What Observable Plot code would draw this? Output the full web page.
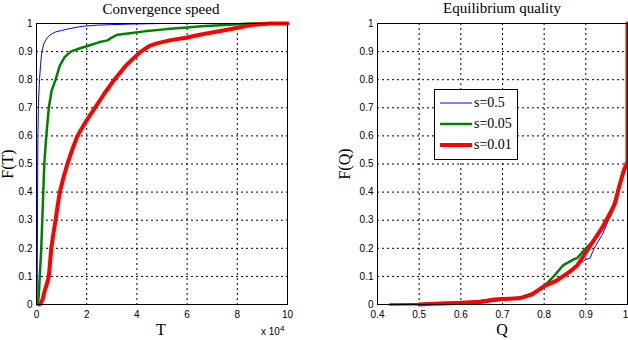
<!DOCTYPE html>
<html>
<head>
<meta charset="utf-8">
<script src="https://cdn.jsdelivr.net/npm/d3@7"></script>
<script src="https://cdn.jsdelivr.net/npm/@observablehq/plot@0.6"></script>
<style>
  html, body { margin: 0; padding: 0; background: #fff; }
  #wrap { position: relative; width: 628px; height: 340px; overflow: hidden; background: #fff; }
  .pl { position: absolute; top: 0; }
  .lbl { position: absolute; font-family: "Liberation Serif", serif; color: #000; white-space: nowrap; line-height: 1; }
  .legend { position: absolute; left: 434px; top: 89px; width: 82px; height: 69px; border: 1px solid #000; background: #fff;
            font-family: "Liberation Serif", serif; font-size: 14px; }
  .legend .row { position: absolute; left: 5px; height: 20px; display: flex; align-items: center; }
  .legend .row span { margin-left: 2px; }
</style>
</head>
<body>
<div id="wrap"></div>
<script>
// ---------- data ----------
const seriesNames = ["s=0.5", "s=0.05", "s=0.01"];
const seriesColors = ["#0000ff", "#008000", "#ff0000"];
const seriesWidths = [1, 2.5, 4];

// Left panel: CDF of convergence time T (in units of 10^4)
const tBlue = [0, 0.02, 0.03, 0.04, 0.05, 0.06, 0.08, 0.12, 0.16, 0.2, 0.24, 0.3, 0.43, 0.55, 0.76, 1.0, 1.23, 1.5, 1.83, 2.4, 3.0, 3.8, 5, 10];
const fBlue = [0, 0.02, 0.1, 0.3, 0.55, 0.62, 0.72, 0.8, 0.85, 0.89, 0.91, 0.93, 0.95, 0.96, 0.97, 0.975, 0.98, 0.985, 0.99, 0.994, 0.996, 0.998, 1, 1];
const tGreen = [0.03, 0.08, 0.1, 0.13, 0.19, 0.23, 0.27, 0.31, 0.39, 0.49, 0.6, 0.76, 0.93, 1.12, 1.36, 1.68, 2.03, 2.48, 2.83, 3.0, 3.23, 3.8, 4.3, 5.2, 6.0, 6.56, 7.5, 8.5, 10];
const fGreen = [0, 0.02, 0.05, 0.1, 0.2, 0.3, 0.4, 0.5, 0.6, 0.7, 0.76, 0.8, 0.85, 0.88, 0.9, 0.91, 0.92, 0.933, 0.94, 0.95, 0.96, 0.966, 0.972, 0.98, 0.986, 0.99, 0.995, 1, 1];
const tRed = [0.12, 0.16, 0.2, 0.25, 0.3, 0.35, 0.4, 0.45, 0.49, 0.54, 0.59, 0.67, 0.76, 0.84, 0.93, 1.07, 1.23, 1.42, 1.63, 1.96, 2.33, 2.7, 3.1, 3.56, 3.85, 4.16, 4.5, 4.83, 5.3, 6.0, 6.5, 7.1, 7.6, 8.0, 8.6, 9.3, 10];
const fRed = [0, 0.003, 0.01, 0.02, 0.04, 0.055, 0.07, 0.085, 0.1, 0.15, 0.2, 0.25, 0.3, 0.35, 0.4, 0.45, 0.5, 0.55, 0.6, 0.65, 0.7, 0.75, 0.8, 0.85, 0.875, 0.9, 0.92, 0.93, 0.94, 0.95, 0.96, 0.97, 0.978, 0.985, 0.995, 1, 1];

// Right panel: CDF of equilibrium quality Q
const qBlue = [0.62, 0.7, 0.74, 0.77, 0.8, 0.84, 0.87, 0.89, 0.9, 0.91, 0.92, 0.94, 0.96, 0.97, 0.98, 0.99, 1, 1];
const gBlue = [0, 0.015, 0.025, 0.038, 0.065, 0.1, 0.13, 0.15, 0.16, 0.165, 0.2, 0.25, 0.32, 0.35, 0.41, 0.47, 0.51, 1];
const qGreen = [0.43, 0.6, 0.62, 0.64, 0.66, 0.7, 0.72, 0.75, 0.78, 0.8, 0.823, 0.84, 0.847, 0.87, 0.879, 0.9, 0.92, 0.94, 0.96, 0.98, 0.99, 1, 1];
const gGreen = [0, 0.003, 0.008, 0.012, 0.015, 0.018, 0.02, 0.028, 0.045, 0.065, 0.1, 0.13, 0.141, 0.16, 0.165, 0.2, 0.23, 0.27, 0.32, 0.42, 0.48, 0.51, 1];
const qRed = [0.5, 0.55, 0.6, 0.65, 0.68, 0.7, 0.74, 0.77, 0.8, 0.83, 0.86, 0.88, 0.9, 0.92, 0.94, 0.96, 0.97, 0.98, 0.99, 1, 1];
const gRed = [0, 0.004, 0.006, 0.01, 0.018, 0.02, 0.022, 0.035, 0.065, 0.085, 0.115, 0.14, 0.185, 0.23, 0.275, 0.33, 0.36, 0.42, 0.47, 0.51, 1];

const tTicks = [0, 2, 4, 6, 8, 10];
const qTicks = [0.4, 0.5, 0.6, 0.7, 0.8, 0.9, 1];
const fTicks = [0, 0.1, 0.2, 0.3, 0.4, 0.5, 0.6, 0.7, 0.8, 0.9, 1];

const titleLeft = "Convergence speed";
const titleRight = "Equilibrium quality";
// ---------------------------

const toRows = (xs, ys, s) => xs.map((x, i) => ({x, y: ys[i], s}));
const leftData = [toRows(tBlue, fBlue, 0), toRows(tGreen, fGreen, 1), toRows(tRed, fRed, 2)];
const rightData = [toRows(qBlue, gBlue, 0), toRows(qGreen, gGreen, 1), toRows(qRed, gRed, 2)];

const fmt = d => (d === 0 || d === 1) ? String(d) : String(+d.toFixed(1));
const style = {fontFamily: "'Liberation Sans', sans-serif", fontSize: "10px", color: "#000", background: "transparent", overflow: "visible"};

function panel(data, xDomain, xTicks, opts) {
  const lastTick = xTicks[xTicks.length - 1];
  const xAxes = opts.lastEnd
    ? [Plot.axisX(xTicks.slice(0, -1), {tickFormat: opts.xfmt, tickSize: 0, tickPadding: 6, label: null}),
       Plot.axisX([lastTick], {tickFormat: opts.xfmt, tickSize: 0, tickPadding: 6, label: null, dx: -2})]
    : [Plot.axisX(xTicks, {tickFormat: opts.xfmt, tickSize: 0, tickPadding: 6, label: null})];
  return Plot.plot({
    width: opts.width, height: 340,
    marginLeft: opts.ml, marginRight: opts.mr, marginTop: 23, marginBottom: 36,
    style,
    x: {domain: xDomain},
    y: {domain: [0, 1]},
    marks: [
      Plot.gridX(xTicks, {stroke: "#000", strokeOpacity: 1, strokeDasharray: "2,3"}),
      Plot.gridY(fTicks, {stroke: "#000", strokeOpacity: 1, strokeDasharray: "2,3"}),
      ...xAxes,
      Plot.axisY(fTicks, {tickFormat: fmt, tickSize: 0, tickPadding: 4, label: null}),
      ...data.map(rows => Plot.line(rows, {x: "x", y: "y", stroke: seriesColors[rows[0].s], strokeWidth: seriesWidths[rows[0].s], strokeLinejoin: "miter"})),
      Plot.frame({stroke: "#000", strokeWidth: 1})
    ]
  });
}

const wrap = document.getElementById("wrap");

const left = panel(leftData, [0, 10], tTicks, {width: 310, ml: 36, mr: 23, xfmt: d => String(d)});
left.classList.add("pl"); left.style.left = "0px";
wrap.appendChild(left);

const right = panel(rightData, [0.4, 1], qTicks, {width: 318, ml: 67, mr: 1, xfmt: fmt, lastEnd: true});
right.classList.add("pl"); right.style.left = "310px";
wrap.appendChild(right);

function label(text, css) {
  const d = document.createElement("div");
  d.className = "lbl";
  d.innerHTML = text;
  Object.assign(d.style, css);
  wrap.appendChild(d);
  return d;
}
label(titleLeft, {left: "161px", top: "2px", transform: "translateX(-50%)", fontSize: "15px"});
label(titleRight, {left: "502px", top: "1px", transform: "translateX(-50%)", fontSize: "15px"});
label("T", {left: "161px", top: "322px", transform: "translateX(-50%)", fontSize: "16px"});
label("Q", {left: "502px", top: "322px", transform: "translateX(-50%)", fontSize: "16px"});
label("F(T)", {left: "8px", top: "164px", transform: "translate(-50%,-50%) rotate(-90deg)", fontSize: "16px"});
label("F(Q)", {left: "345px", top: "164px", transform: "translate(-50%,-50%) rotate(-90deg)", fontSize: "16px"});
label("x 10<sup style='font-size:8px'>4</sup>", {left: "261px", top: "325px", fontSize: "10px", fontFamily: "'Liberation Sans', sans-serif"});

// legend
const leg = document.createElement("div");
leg.className = "legend";
seriesNames.forEach((name, i) => {
  const row = document.createElement("div");
  row.className = "row";
  row.style.top = (3 + i * 21) + "px";
  row.innerHTML = `<svg width="32" height="10"><line x1="0" x2="32" y1="5" y2="5" stroke="${seriesColors[i]}" stroke-width="${seriesWidths[i]}"/></svg><span>${name}</span>`;
  leg.appendChild(row);
});
wrap.appendChild(leg);
</script>
</body>
</html>
